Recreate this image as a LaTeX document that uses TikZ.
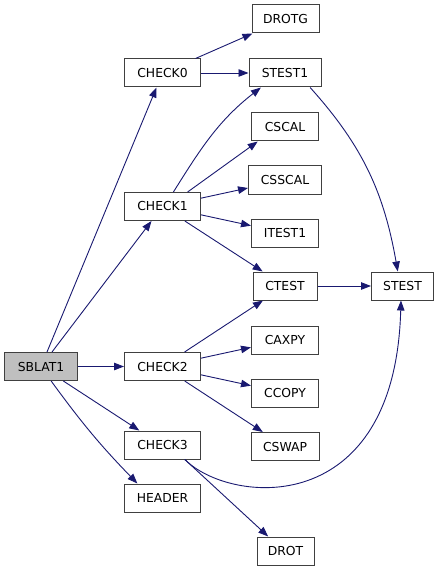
\documentclass[tikz,border=0pt]{standalone}
\usepackage{fontspec}
\setsansfont{DejaVu Sans}
\usetikzlibrary{arrows.meta}
\definecolor{edgeblue}{HTML}{191970}
\definecolor{boxline}{HTML}{404040}
\definecolor{rootfill}{HTML}{BFBFBF}

\begin{document}
\begin{tikzpicture}[x=1bp, y=1bp,
                    fn/.style={rectangle, draw=boxline, line width=1bp, fill=white,
                               minimum height=28bp, inner sep=0pt,
                               font=\sffamily\fontsize{12.4}{14}\selectfont},
                    root/.style={fn, fill=rootfill},
                    call/.style={draw=edgeblue, line width=0.9bp,
                                 -{Triangle[length=10bp, width=7.5bp]}}]
  \useasboundingbox (0,0) rectangle (440,-571);
  % caller
  \node[root, minimum width=72bp] (sblat1) at (41,-366.5) {SBLAT1};
  % first level
  \node[fn, minimum width=76bp] (check0) at (162.5,-73) {CHECK0};
  \node[fn, minimum width=76bp] (check1) at (162.5,-206.5) {CHECK1};
  \node[fn, minimum width=76bp] (check2) at (162.5,-366.5) {CHECK2};
  \node[fn, minimum width=76bp] (check3) at (162.5,-445) {CHECK3};
  \node[fn, minimum width=76bp] (header) at (162.5,-498) {HEADER};
  % second level
  \node[fn, minimum width=67bp] (drotg) at (285.5,-19) {DROTG};
  \node[fn, minimum width=72bp] (stest1) at (285,-73) {STEST1};
  \node[fn, minimum width=67bp] (cscal) at (285,-127) {CSCAL};
  \node[fn, minimum width=73bp] (csscal) at (285,-180) {CSSCAL};
  \node[fn, minimum width=67bp] (itest1) at (285,-233) {ITEST1};
  \node[fn, minimum width=64bp] (ctest) at (285,-286) {CTEST};
  \node[fn, minimum width=67bp] (caxpy) at (285,-340) {CAXPY};
  \node[fn, minimum width=67bp] (ccopy) at (285,-393) {CCOPY};
  \node[fn, minimum width=68bp] (cswap) at (285,-446.5) {CSWAP};
  \node[fn, minimum width=57bp] (drot) at (285.5,-551) {DROT};
  \node[fn, minimum width=62bp] (stest) at (402.5,-286) {STEST};
  % calls from SBLAT1
  \draw[call] (sblat1) -- (check0);
  \draw[call] (sblat1) -- (check1);
  \draw[call] (sblat1) -- (check2);
  \draw[call] (sblat1.-33) -- (check3.148);
  \draw[call] (sblat1.-55) to[bend right=4] (header.150);
  % calls from CHECK0
  \draw[call] (check0) -- (drotg);
  \draw[call] (check0) -- (stest1);
  % calls from CHECK1
  \draw[call] (check1.53) to[out=58, in=218] (stest1.211);
  \draw[call] (check1.30) -- (cscal.208);
  \draw[call] (check1) -- (csscal);
  \draw[call] (check1) -- (itest1);
  \draw[call] (check1) -- (ctest);
  % calls from CHECK2
  \draw[call] (check2) -- (ctest);
  \draw[call] (check2) -- (caxpy);
  \draw[call] (check2) -- (ccopy);
  \draw[call] (check2) -- (cswap);
  % calls from CHECK3
  \draw[call] (check3.-33) -- (drot.140);
  \draw[call] (check3.-33) .. controls +(45,-45) and +(-6,-220) .. (stest.-96);
  % into STEST
  \draw[call] (stest1.-30) to[out=-48, in=100] (stest.108);
  \draw[call] (ctest) -- (stest);
\end{tikzpicture}
\end{document}
